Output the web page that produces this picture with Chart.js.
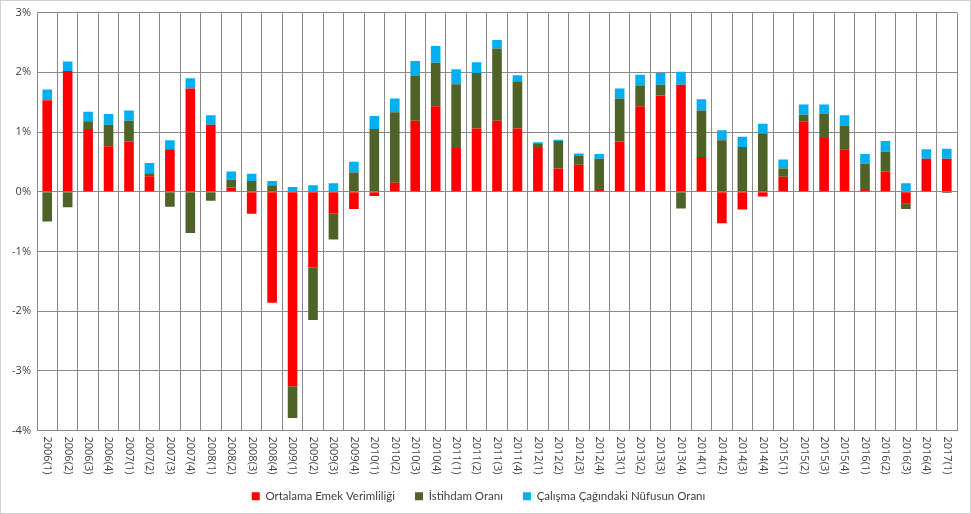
<!DOCTYPE html>
<html>
<head>
<meta charset="utf-8">
<script src="https://cdn.jsdelivr.net/npm/chart.js@4.4.0/dist/chart.umd.min.js"></script>
<style>
  html, body { margin: 0; padding: 0; background: #fff; }
  #wrap { position: absolute; left: 0; top: 0; width: 971px; height: 514px; }
</style>
</head>
<body>
<div id="wrap"><canvas id="chart" width="971" height="514"></canvas></div>
<script>
// Quarter labels
const quarters = [
    "2006(1)", "2006(2)", "2006(3)", "2006(4)",
    "2007(1)", "2007(2)", "2007(3)", "2007(4)",
    "2008(1)", "2008(2)", "2008(3)", "2008(4)",
    "2009(1)", "2009(2)", "2009(3)", "2009(4)",
    "2010(1)", "2010(2)", "2010(3)", "2010(4)",
    "2011(1)", "2011(2)", "2011(3)", "2011(4)",
    "2012(1)", "2012(2)", "2012(3)", "2012(4)",
    "2013(1)", "2013(2)", "2013(3)", "2013(4)",
    "2014(1)", "2014(2)", "2014(3)", "2014(4)",
    "2015(1)", "2015(2)", "2015(3)", "2015(4)",
    "2016(1)", "2016(2)", "2016(3)", "2016(4)",
    "2017(1)"
];

// Contributions (percentage points)
const emekVerimliligi = [
    1.53, 2.02, 1.05, 0.76, 0.84, 0.26, 0.71, 1.73, 1.12, 0.07, -0.37, -1.86,
    -3.26, -1.27, -0.37, -0.29, -0.07, 0.15, 1.19, 1.43, 0.73, 1.06, 1.19, 1.06,
    0.73, 0.39, 0.45, 0.03, 0.84, 1.43, 1.61, 1.79, 0.58, -0.53, -0.30, -0.08,
    0.25, 1.18, 0.90, 0.71, 0.03, 0.34, -0.20, 0.55, 0.55
];
const istihdamOrani = [
    -0.50, -0.26, 0.13, 0.36, 0.35, 0.05, -0.25, -0.69, -0.15, 0.13, 0.18, 0.11,
    -0.53, -0.88, -0.43, 0.32, 1.05, 1.18, 0.75, 0.73, 1.07, 0.93, 1.21, 0.79,
    0.08, 0.46, 0.15, 0.52, 0.72, 0.34, 0.18, -0.28, 0.78, 0.86, 0.75, 0.98,
    0.14, 0.11, 0.41, 0.40, 0.44, 0.33, -0.09, 0.00, -0.02
];
const nufusOrani = [
    0.18, 0.16, 0.16, 0.18, 0.17, 0.17, 0.15, 0.17, 0.16, 0.14, 0.12, 0.07,
    0.08, 0.11, 0.14, 0.18, 0.22, 0.23, 0.25, 0.28, 0.25, 0.18, 0.14, 0.10,
    0.02, 0.02, 0.04, 0.08, 0.17, 0.19, 0.20, 0.22, 0.19, 0.17, 0.17, 0.16,
    0.15, 0.17, 0.15, 0.17, 0.16, 0.18, 0.14, 0.16, 0.17
];

const gridColor = "#8a8a8a";
const textColor = "#404040";
const fontFamily = "'Open Sans', 'Noto Sans', sans-serif";
const legendFont = "Lato, 'Open Sans', sans-serif";

// white background + thin frame around the whole chart
const framePlugin = {
    id: "frame",
    beforeDraw(chart) {
        const c = chart.ctx;
        c.save();
        c.fillStyle = "#fff";
        c.fillRect(0, 0, chart.width, chart.height);
        c.strokeStyle = "#d0d0d0";
        c.lineWidth = 1;
        c.strokeRect(0.5, 0.5, chart.width - 1, chart.height - 1);
        c.restore();
    }
};

// x labels read top-to-bottom (rotated clockwise), like the original
const verticalLabels = {
    id: "verticalLabels",
    afterDraw(chart) {
        const scale = chart.scales.x;
        const c = chart.ctx;
        c.save();
        c.fillStyle = textColor;
        c.font = "11px " + fontFamily;
        c.textAlign = "left";
        c.textBaseline = "middle";
        quarters.forEach((q, i) => {
            const x = scale.getPixelForValue(i);
            c.save();
            c.translate(x, scale.top + 6);
            c.rotate(Math.PI / 2);
            c.fillText(q, 0, 0);
            c.restore();
        });
        c.restore();
    }
};

new Chart(document.getElementById("chart").getContext("2d"), {
    type: "bar",
    data: {
        labels: quarters,
        datasets: [
            { label: "Ortalama Emek Verimliliği", data: emekVerimliligi, backgroundColor: "#ff0000" },
            { label: "İstihdam Oranı", data: istihdamOrani, backgroundColor: "#4f6228" },
            { label: "Çalışma Çağındaki Nüfusun Oranı", data: nufusOrani, backgroundColor: "#00b0f0" }
        ]
    },
    options: {
        responsive: false,
        animation: false,
        layout: { padding: { top: 10, right: 14, left: 0, bottom: 2 } },
        datasets: { bar: { categoryPercentage: 1, barPercentage: 0.47 } },
        scales: {
            x: {
                stacked: true,
                offset: true,
                grid: { color: gridColor, offset: true, drawTicks: false },
                border: { color: gridColor },
                ticks: { display: false },
                afterFit(s) { s.height = 40; }
            },
            y: {
                stacked: true,
                min: -4,
                max: 3,
                grid: { color: gridColor, drawTicks: false },
                border: { color: gridColor },
                ticks: {
                    stepSize: 1,
                    padding: 6,
                    color: textColor,
                    font: { size: 11, family: fontFamily },
                    callback: v => v + "%"
                },
                afterFit(s) { s.width = 37; }
            }
        },
        plugins: {
            legend: {
                position: "bottom",
                labels: {
                    boxWidth: 8,
                    boxHeight: 8,
                    padding: 20,
                    color: textColor,
                    font: { size: 11.5, family: legendFont }
                }
            },
            tooltip: { enabled: false }
        }
    },
    plugins: [framePlugin, verticalLabels]
});
</script>
</body>
</html>
